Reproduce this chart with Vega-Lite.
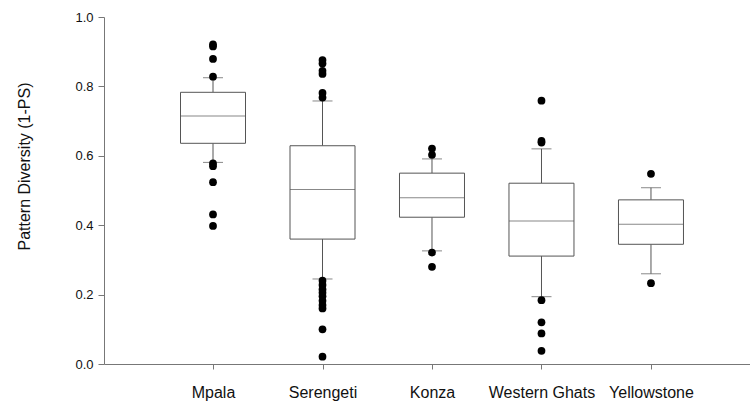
{
  "$schema": "https://vega.github.io/schema/vega-lite/v6.json",
  "width": 646,
  "height": 347,
  "autosize": {"type": "none"},
  "padding": {"left": 104, "top": 17, "right": 0, "bottom": 39},
  "background": "white",
  "config": {"view": {"stroke": null}},
  "datasets": {
    "stats": [
      {"site": "Mpala", "lower": 0.581, "q1": 0.636, "median": 0.715, "q3": 0.783, "upper": 0.825},
      {"site": "Serengeti", "lower": 0.245, "q1": 0.360, "median": 0.503, "q3": 0.629, "upper": 0.758},
      {"site": "Konza", "lower": 0.326, "q1": 0.423, "median": 0.479, "q3": 0.550, "upper": 0.591},
      {"site": "Western Ghats", "lower": 0.194, "q1": 0.311, "median": 0.412, "q3": 0.521, "upper": 0.620},
      {"site": "Yellowstone", "lower": 0.260, "q1": 0.345, "median": 0.403, "q3": 0.473, "upper": 0.508}
    ],
    "outliers": [
      {"site": "Mpala", "value": 0.921},
      {"site": "Mpala", "value": 0.915},
      {"site": "Mpala", "value": 0.879},
      {"site": "Mpala", "value": 0.828},
      {"site": "Mpala", "value": 0.578},
      {"site": "Mpala", "value": 0.570},
      {"site": "Mpala", "value": 0.524},
      {"site": "Mpala", "value": 0.431},
      {"site": "Mpala", "value": 0.398},
      {"site": "Serengeti", "value": 0.876},
      {"site": "Serengeti", "value": 0.866},
      {"site": "Serengeti", "value": 0.845},
      {"site": "Serengeti", "value": 0.836},
      {"site": "Serengeti", "value": 0.781},
      {"site": "Serengeti", "value": 0.768},
      {"site": "Serengeti", "value": 0.240},
      {"site": "Serengeti", "value": 0.228},
      {"site": "Serengeti", "value": 0.215},
      {"site": "Serengeti", "value": 0.205},
      {"site": "Serengeti", "value": 0.195},
      {"site": "Serengeti", "value": 0.182},
      {"site": "Serengeti", "value": 0.170},
      {"site": "Serengeti", "value": 0.160},
      {"site": "Serengeti", "value": 0.100},
      {"site": "Serengeti", "value": 0.021},
      {"site": "Konza", "value": 0.621},
      {"site": "Konza", "value": 0.603},
      {"site": "Konza", "value": 0.321},
      {"site": "Konza", "value": 0.280},
      {"site": "Western Ghats", "value": 0.759},
      {"site": "Western Ghats", "value": 0.643},
      {"site": "Western Ghats", "value": 0.638},
      {"site": "Western Ghats", "value": 0.184},
      {"site": "Western Ghats", "value": 0.120},
      {"site": "Western Ghats", "value": 0.088},
      {"site": "Western Ghats", "value": 0.038},
      {"site": "Yellowstone", "value": 0.548},
      {"site": "Yellowstone", "value": 0.233}
    ]
  },
  "encoding": {
    "x": {
      "field": "site",
      "type": "nominal",
      "sort": ["Mpala", "Serengeti", "Konza", "Western Ghats", "Yellowstone"],
      "scale": {"type": "point", "domain": ["Mpala", "Serengeti", "Konza", "Western Ghats", "Yellowstone"], "padding": 0.95, "align": 0.524},
      "axis": {
        "title": null,
        "labelAngle": 0,
        "labelFont": "Liberation Sans, Arial, sans-serif",
        "labelFontSize": 16,
        "labelColor": "#111",
        "labelPadding": 15,
        "tickSize": 5,
        "tickColor": "#777",
        "domainColor": "#777",
        "grid": false
      }
    }
  },
  "layer": [
    {
      "data": {"name": "stats"},
      "mark": {"type": "rule", "color": "#555", "strokeWidth": 1},
      "encoding": {
        "y": {"field": "q3", "type": "quantitative"},
        "y2": {"field": "upper"}
      }
    },
    {
      "data": {"name": "stats"},
      "mark": {"type": "rule", "color": "#555", "strokeWidth": 1},
      "encoding": {
        "y": {"field": "lower", "type": "quantitative"},
        "y2": {"field": "q1"}
      }
    },
    {
      "data": {"name": "stats"},
      "mark": {"type": "bar", "width": 65, "fill": "white", "stroke": "#555", "strokeWidth": 1},
      "encoding": {
        "y": {
          "field": "q1",
          "type": "quantitative",
          "scale": {"domain": [0, 1], "nice": false, "zero": false},
          "axis": {
            "title": "Pattern Diversity (1-PS)",
            "titleFont": "Liberation Sans, Arial, sans-serif",
            "titleFontSize": 16,
            "titleFontWeight": "normal",
            "titleColor": "#111",
            "titleX": -72,
            "titleY": 149,
            "values": [0, 0.2, 0.4, 0.6, 0.8, 1.0],
            "format": ".1f",
            "labelFont": "Liberation Sans, Arial, sans-serif",
            "labelFontSize": 13,
            "labelColor": "#111",
            "labelPadding": 5,
            "tickSize": 6,
            "tickColor": "#777",
            "domainColor": "#777",
            "grid": false
          }
        },
        "y2": {"field": "q3"}
      }
    },
    {
      "data": {"name": "stats"},
      "mark": {"type": "tick", "size": 65, "thickness": 1, "color": "#555"},
      "encoding": {"y": {"field": "median", "type": "quantitative"}}
    },
    {
      "data": {"name": "stats"},
      "mark": {"type": "tick", "size": 20, "thickness": 1, "color": "#555"},
      "encoding": {"y": {"field": "upper", "type": "quantitative"}}
    },
    {
      "data": {"name": "stats"},
      "mark": {"type": "tick", "size": 20, "thickness": 1, "color": "#555"},
      "encoding": {"y": {"field": "lower", "type": "quantitative"}}
    },
    {
      "data": {"name": "outliers"},
      "mark": {"type": "point", "shape": "circle", "filled": true, "color": "black", "opacity": 1, "size": 60},
      "encoding": {"y": {"field": "value", "type": "quantitative"}}
    }
  ]
}
